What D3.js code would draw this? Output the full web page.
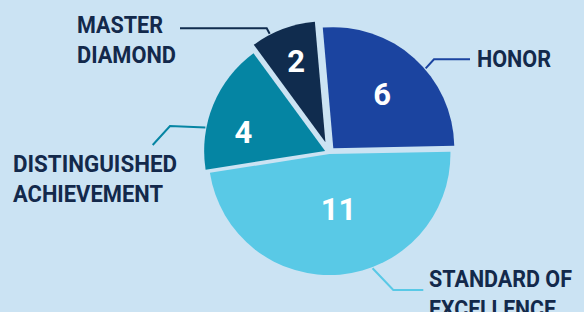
<!DOCTYPE html>
<html>
<head>
<meta charset="utf-8">
<script src="https://cdn.jsdelivr.net/npm/d3@7"></script>
<style>
  html, body { margin: 0; padding: 0; background: #cbe3f3; }
  svg { display: block; }
</style>
</head>
<body>
<svg id="chart" width="584" height="312"></svg>
<script>
// ---- data ----
const categories = ["HONOR", "STANDARD OF EXCELLENCE", "DISTINGUISHED ACHIEVEMENT", "MASTER DIAMOND"];
const values = [6, 11, 4, 2];
const labelLines = [["HONOR"], ["STANDARD OF", "EXCELLENCE"], ["DISTINGUISHED", "ACHIEVEMENT"], ["MASTER", "DIAMOND"]];

// ---- style ----
const colors = ["#1b44a0", "#59c9e6", "#0585a3", "#102c4e"];
const explode = [6, 1.5, 4.5, 11];
const valueLabelShift = [0, -4.4, -9.4, 0.9];   // degrees from mid-angle
const valueLabelRadius = [73, 55, 84, 87];
const labelX = [477, 429, 13, 77];
const labelY = [66.7, 286.5, 171.7, 33.3];     // first baseline
const lineGap = 30;
const labelWidths = [[74], [143, 127], [164, 150], [86, 99]];
const leaderStartAngle = [49.2, 159.3, 281, 332.8];
const leaderElbow = [[434, 59.3], [393.3, 290], [170, 126], [266.7, 28.3]];
const leaderEnd = [[470, 59.3], [423.3, 290], [152.7, 145], [180, 28.3]];

const W = 584, H = 312;
const cx = 329.3, cy = 152.6, R = 121;
const startDeg = -5;
const textColor = "#13294b";
const font = "Roboto, 'Liberation Sans', sans-serif";

const svg = d3.select("#chart");
svg.append("rect").attr("width", W).attr("height", H).attr("fill", "#cbe3f3");

const rad = d => d * Math.PI / 180;
const pie = d3.pie().sort(null)
  .startAngle(rad(startDeg)).endAngle(rad(startDeg) + 2 * Math.PI);
const arcs = pie(values);
const arc = d3.arc().innerRadius(0).outerRadius(R);

const g = svg.append("g").attr("transform", `translate(${cx},${cy})`);

const apex = arcs.map((a, i) => {
  const m = (a.startAngle + a.endAngle) / 2;
  return [explode[i] * Math.sin(m), -explode[i] * Math.cos(m)];
});

g.selectAll("path.slice").data(arcs).join("path")
  .attr("class", "slice")
  .attr("d", arc)
  .attr("fill", (d, i) => colors[i])
  .attr("transform", (d, i) => `translate(${apex[i][0]},${apex[i][1]})`);

// value labels
g.selectAll("text.val").data(arcs).join("text")
  .attr("class", "val")
  .attr("x", (d, i) => {
    const m = (d.startAngle + d.endAngle) / 2 + rad(valueLabelShift[i]);
    return apex[i][0] + valueLabelRadius[i] * Math.sin(m);
  })
  .attr("y", (d, i) => {
    const m = (d.startAngle + d.endAngle) / 2 + rad(valueLabelShift[i]);
    return apex[i][1] - valueLabelRadius[i] * Math.cos(m);
  })
  .attr("dy", "0.36em")
  .attr("text-anchor", "middle")
  .attr("fill", "#ffffff")
  .attr("font-family", font)
  .attr("font-weight", "bold")
  .attr("font-size", 31)
  .text(d => d.data);

// leader lines
arcs.forEach((a, i) => {
  const ang = rad(leaderStartAngle[i]);
  const sx = cx + apex[i][0] + (R + 1) * Math.sin(ang);
  const sy = cy + apex[i][1] - (R + 1) * Math.cos(ang);
  svg.append("path")
    .attr("d", d3.line()([[sx, sy], leaderElbow[i], leaderEnd[i]]))
    .attr("fill", "none")
    .attr("stroke", colors[i])
    .attr("stroke-width", 2);
});

// category labels
labelLines.forEach((lines, i) => {
  const t = svg.append("text")
    .attr("fill", textColor)
    .attr("font-family", font)
    .attr("font-weight", "bold")
    .attr("font-size", 24);
  lines.forEach((ln, j) => {
    t.append("tspan")
      .attr("x", labelX[i])
      .attr("y", labelY[i] + j * lineGap)
      .attr("textLength", labelWidths[i][j])
      .attr("lengthAdjust", "spacingAndGlyphs")
      .text(ln);
  });
});
</script>
</body>
</html>
